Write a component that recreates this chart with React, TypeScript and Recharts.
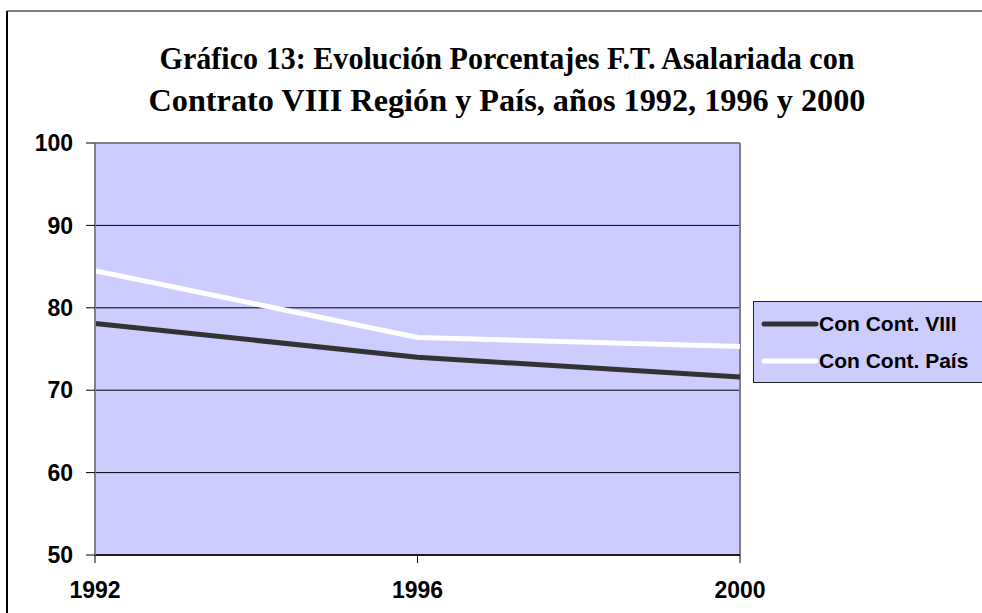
import React from 'react'
import {LineChart, Line, XAxis, YAxis, CartesianGrid, ReferenceLine} from 'recharts'

const years = ['1992', '1996', '2000']
const conContVIII = [78.1, 74.0, 71.6]
const conContPais = [84.5, 76.4, 75.3]
const yTicks = [50, 60, 70, 80, 90, 100]
const titleLines = ['Gráfico 13: Evolución Porcentajes F.T. Asalariada con', 'Contrato VIII Región y País, años 1992, 1996 y 2000']

const series = [
  {key: 'viii', name: 'Con Cont. VIII', color: '#333333'},
  {key: 'pais', name: 'Con Cont. País', color: '#FFFFFF'}
]

const data = years.map((year, i) => ({
  year,
  viii: conContVIII[i],
  pais: conContPais[i]
}))

const sansBold = 'Arial, "Liberation Sans", sans-serif'
const axisFont = {fontFamily: sansBold, fontWeight: 700, fontSize: 23, fill: '#000'}

// Leyenda dibujada aparte (caja lila con borde), para no quitar espacio al gráfico
const LegendBox = () => (
  <div
    style={{
      position: 'absolute',
      left: 753,
      top: 301,
      width: 240,
      height: 82,
      background: '#CCCCFF',
      border: '1px solid #222',
      boxSizing: 'border-box',
      paddingTop: 3
    }}
  >
    {series.map(s => (
      <div key={s.key} style={{display: 'flex', alignItems: 'center', height: 37, paddingLeft: 7}}>
        <svg width={58} height={10}>
          <line x1={3} y1={5} x2={55} y2={5} stroke={s.color} strokeWidth={5} strokeLinecap='round' />
        </svg>
        <span style={{fontFamily: sansBold, fontWeight: 700, fontSize: 21, color: '#000'}}>{s.name}</span>
      </div>
    ))}
  </div>
)

const App: React.FC = () => {
  return (
    <div style={{position: 'absolute', left: 0, top: 0, width: 982, height: 613, background: '#fff', overflow: 'hidden'}}>
      <LineChart width={982} height={613} data={data} margin={{top: 143, right: 242, bottom: 0, left: 0}}>
        <CartesianGrid fill='#CCCCFF' stroke='#000' vertical={false} />
        <XAxis
          dataKey='year'
          axisLine={{stroke: '#000', strokeWidth: 1.5}}
          tickLine={{stroke: '#000'}}
          tickSize={8}
          tickMargin={19}
          tick={axisFont}
          fontSize={23}
          height={58}
        />
        <YAxis
          domain={[50, 100]}
          ticks={yTicks}
          interval={0}
          axisLine={{stroke: '#808080', strokeWidth: 2}}
          tickLine={{stroke: '#000'}}
          tickSize={9}
          tickMargin={13}
          tick={axisFont}
          fontSize={23}
          width={95}
        />
        <ReferenceLine y={100} stroke='#808080' strokeWidth={2} />
        <ReferenceLine x='2000' stroke='#808080' strokeWidth={2} />
        {series.map(s => (
          <Line
            key={s.key}
            type='linear'
            dataKey={s.key}
            name={s.name}
            stroke={s.color}
            strokeWidth={5}
            dot={false}
            isAnimationActive={false}
          />
        ))}
      </LineChart>
      <LegendBox />
      <svg width={982} height={613} style={{position: 'absolute', left: 0, top: 0, pointerEvents: 'none'}}>
        <line x1={7} y1={11} x2={7} y2={613} stroke='#000' strokeWidth={2} />
        <line x1={7} y1={11} x2={982} y2={11} stroke='#000' strokeWidth={1} />
        {titleLines.map((t, i) => (
          <text
            key={i}
            x={507}
            y={69 + i * 42}
            textAnchor='middle'
            textLength={i === 0 ? 695 : 717}
            lengthAdjust='spacingAndGlyphs'
            style={{fontFamily: '"Liberation Serif", "Times New Roman", serif', fontWeight: 700, fontSize: 31}}
          >
            {t}
          </text>
        ))}
      </svg>
    </div>
  )
}

export default App
